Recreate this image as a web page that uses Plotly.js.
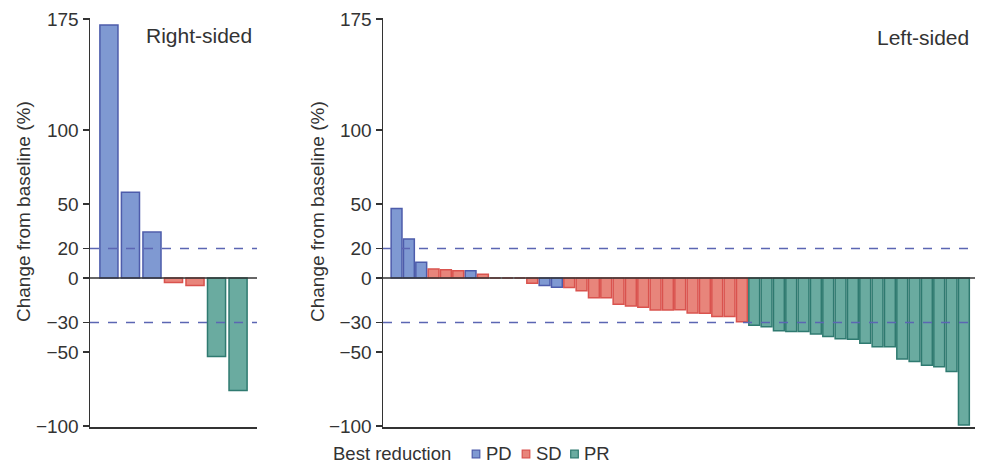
<!DOCTYPE html>
<html>
<head>
<meta charset="utf-8">
<script src="https://cdn.plot.ly/plotly-3.0.1.min.js"></script>
<style>
html,body{margin:0;padding:0;background:#fff;}
#chart{width:982px;height:465px;}
</style>
</head>
<body>
<div id="chart"></div>
<script>
// ---- data ----
const rightSidedValues = [171, 58, 31, -3, -5, -53, -76];
const rightSidedResponse = ["PD", "PD", "PD", "SD", "SD", "PR", "PR"];

const leftSidedValues = [
  47, 26.4, 10.6, 6, 5.6, 4.9, 4.9, 2.5, 0, 0, 0, -3.6,
  -5, -6.3, -6.5, -8.7, -13.3, -13.3, -17.7, -18.9, -19.8, -21.6, -21.6, -21.4,
  -23.6, -23.9, -26.1, -26.1, -29.5,
  -32, -32.9, -35.6, -36.1, -36.2, -37.8, -39.6, -41, -41.4, -44.1, -46.4, -46.5,
  -54.7, -56.5, -59, -59.9, -63.2, -99.3
];
const leftSidedResponse = [
  "PD", "PD", "PD", "SD", "SD", "SD", "PD", "SD", "SD", "SD", "SD", "SD",
  "PD", "PD", "SD", "SD", "SD", "SD", "SD", "SD", "SD", "SD", "SD", "SD",
  "SD", "SD", "SD", "SD", "SD",
  "PR", "PR", "PR", "PR", "PR", "PR", "PR", "PR", "PR", "PR", "PR", "PR",
  "PR", "PR", "PR", "PR", "PR", "PR"
];

const responseGroups = ["PD", "SD", "PR"];
const yTickVals = [-100, -50, -30, 0, 20, 50, 100, 175];
const thresholdLines = [20, -30];
const panelLabels = ["Right-sided", "Left-sided"];
const yTitle = "Change from baseline (%)";
const legendTitle = "Best reduction";

// ---- styles ----
const fills = {PD: "#7f99d2", SD: "#e8857b", PR: "#6aaba0"};
const lines = {PD: "#4d5cab", SD: "#d9534e", PR: "#2f7a70"};
const font = "Liberation Sans, Arial, Helvetica, sans-serif";
const W = 982, H = 465;

function buildTraces(values, resp, xa, ya, width) {
  return responseGroups.map(g => {
    const xs = [], ys = [];
    values.forEach((v, i) => { if (resp[i] === g) { xs.push(i); ys.push(v); } });
    return {
      type: "bar", x: xs, y: ys, name: g, xaxis: xa, yaxis: ya,
      width: width, legendgroup: g, showlegend: false,
      marker: {color: fills[g], line: {color: lines[g], width: 1.5}},
      hoverinfo: "x+y"
    };
  });
}

const traces = [
  ...buildTraces(rightSidedValues, rightSidedResponse, "x", "y", 0.84),
  ...buildTraces(leftSidedValues, leftSidedResponse, "x2", "y2", 0.88)
];

const yDom = [(H - 427) / H, (H - 18) / H];
const yRange = [-100.7, 175.7];

const yaxisBase = {
  range: yRange, domain: yDom, tickvals: yTickVals, ticks: "outside", ticklen: 6,
  tickwidth: 1.5, tickcolor: "#333", showline: true, linecolor: "#333", linewidth: 1.5,
  showgrid: false, zeroline: false,
  tickfont: {size: 19, color: "#333", family: font}, fixedrange: true
};
const xaxisBase = {
  showticklabels: false, ticks: "", showline: true, linecolor: "#333", linewidth: 1.5,
  showgrid: false, zeroline: false, fixedrange: true
};

const shapes = [];
["x", "x2"].forEach((xa, k) => {
  const ya = k === 0 ? "y" : "y2";
  thresholdLines.forEach(v => {
    shapes.push({
      type: "line", xref: xa + " domain", yref: ya,
      x0: 0, x1: 1, y0: v, y1: v,
      line: {color: "#5b66b3", width: 1.5, dash: "dash"}
    });
  });
  shapes.push({
    type: "line", xref: xa + " domain", yref: ya, x0: 0, x1: 1, y0: 0, y1: 0,
    line: {color: "#333", width: 1.5}
  });
});

const legendY = 453;
const annotations = [
  {text: panelLabels[0], xref: "paper", yref: "paper", x: 254 / W, y: 1 - 35 / H,
   xanchor: "right", yanchor: "middle", showarrow: false, font: {size: 21, color: "#333", family: font}},
  {text: panelLabels[1], xref: "paper", yref: "paper", x: 971 / W, y: 1 - 37 / H,
   xanchor: "right", yanchor: "middle", showarrow: false, font: {size: 21, color: "#333", family: font}},
  {text: yTitle, xref: "paper", yref: "paper", x: 23 / W, y: 1 - 212 / H, textangle: -90,
   xanchor: "center", yanchor: "middle", showarrow: false, font: {size: 19, color: "#333", family: font}},
  {text: yTitle, xref: "paper", yref: "paper", x: 317 / W, y: 1 - 212 / H, textangle: -90,
   xanchor: "center", yanchor: "middle", showarrow: false, font: {size: 19, color: "#333", family: font}},
  {text: legendTitle, xref: "paper", yref: "paper", x: 332 / W, y: 1 - legendY / H,
   xanchor: "left", yanchor: "middle", showarrow: false, borderpad: 0,
   font: {size: 18.5, color: "#333", family: font}}
];

// manual legend (swatch + label)
const legendSwatchX = [476, 526, 574.5];
const legendTextX = [485, 535, 583];
responseGroups.forEach((g, i) => {
  const cx = legendSwatchX[i], cy = legendY + 1;
  shapes.push({
    type: "rect", xref: "paper", yref: "paper",
    x0: (cx - 3.8) / W, x1: (cx + 3.8) / W, y0: 1 - (cy + 3.8) / H, y1: 1 - (cy - 3.8) / H,
    fillcolor: fills[g], line: {color: lines[g], width: 1.2}
  });
  annotations.push({
    text: g, xref: "paper", yref: "paper", x: legendTextX[i] / W, y: 1 - legendY / H,
    xanchor: "left", yanchor: "middle", showarrow: false, borderpad: 0,
    font: {size: 18.5, color: "#333", family: font}
  });
});

const layout = {
  width: W, height: H,
  margin: {l: 0, r: 0, t: 0, b: 0},
  paper_bgcolor: "#fff", plot_bgcolor: "#fff",
  barmode: "overlay",
  font: {family: font, color: "#333"},
  xaxis: {...xaxisBase, domain: [90 / W, 257 / W], range: [-0.88, 6.88], anchor: "y"},
  yaxis: {...yaxisBase, anchor: "x"},
  xaxis2: {...xaxisBase, domain: [383 / W, 975 / W], range: [-1.1, 46.9], anchor: "y2"},
  yaxis2: {...yaxisBase, anchor: "x2"},
  shapes: shapes,
  annotations: annotations,
  showlegend: false
};

Plotly.newPlot("chart", traces, layout, {displayModeBar: false, staticPlot: true});
</script>
</body>
</html>
